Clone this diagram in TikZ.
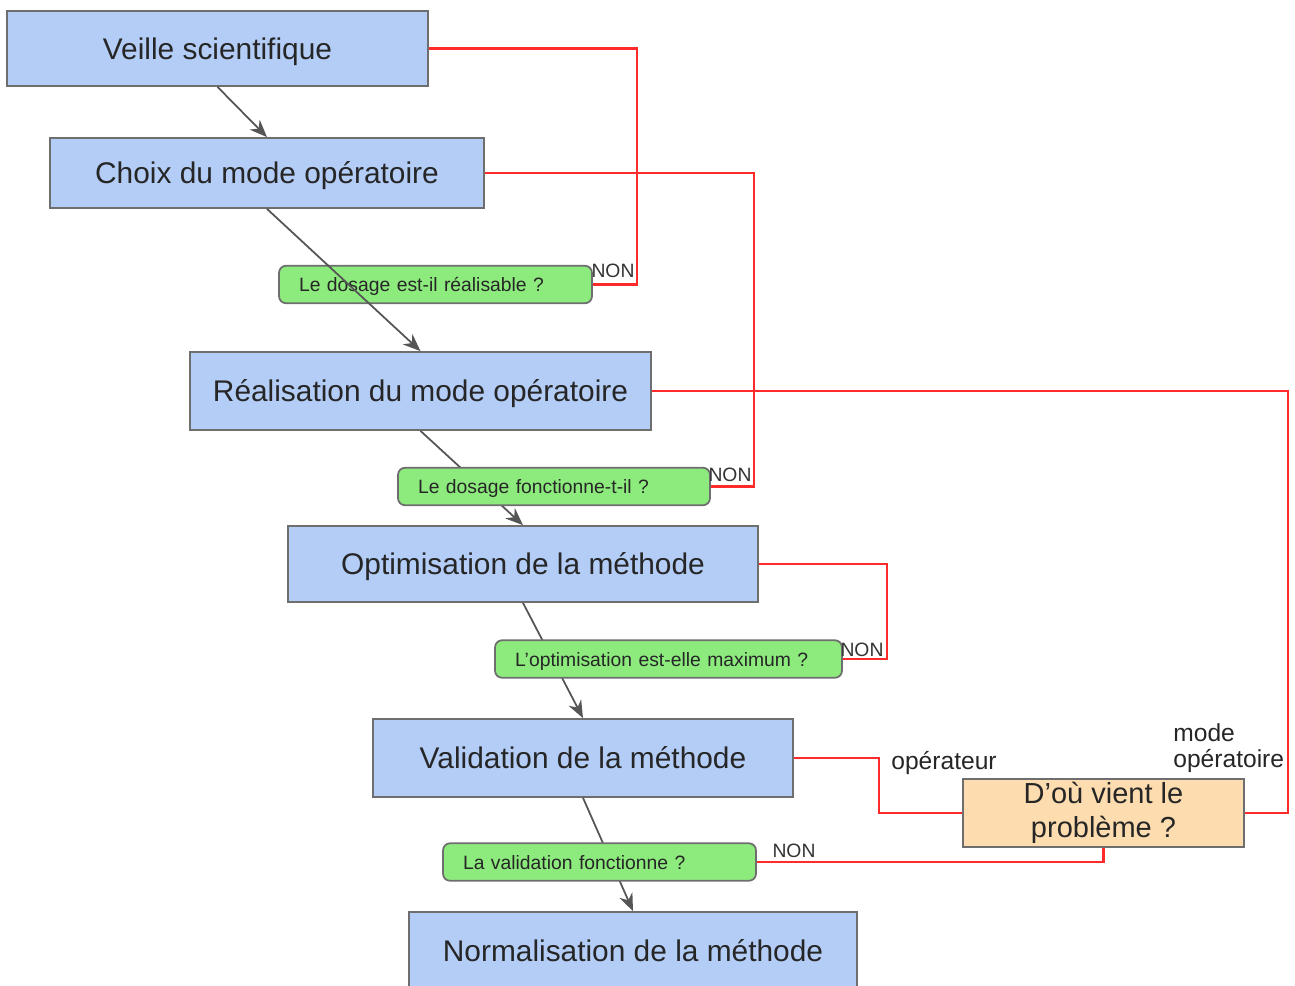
\documentclass[tikz,border=0pt]{standalone}
\usepackage{fontspec}
\setmainfont{Liberation Sans}
\usetikzlibrary{arrows.meta}
\definecolor{boxblue}{HTML}{B3CDF7}
\definecolor{boxgreen}{HTML}{8DEB7E}
\definecolor{boxpeach}{HTML}{FDDCAF}
\definecolor{edgegray}{HTML}{6E6E6E}
\definecolor{arrgray}{HTML}{555555}
\definecolor{linkred}{HTML}{FF2A2A}
\tikzset{
  mainbox/.style={draw=edgegray, line width=1pt, fill=boxblue, inner sep=0pt,
    text height=12.2pt, text depth=0pt,
    font=\fontsize{17}{20}\selectfont, text=black!85},
  qbox/.style={draw=edgegray, line width=1pt, fill=boxgreen, rounded corners=4pt,
    inner xsep=0.4cm, inner ysep=0pt, align=left, minimum height=0.75cm,
    text height=8pt, text depth=0pt,
    font=\fontsize{11}{13}\selectfont, text=black!85},
  probbox/.style={draw=edgegray, line width=1pt, fill=boxpeach, inner sep=0pt,
    align=center, font=\fontsize{16.5}{19}\selectfont, text=black!85},
  arr/.style={draw=arrgray, line width=1pt, -{Stealth[length=10pt,width=8pt]}},
  redlink/.style={draw=linkred, line width=1.2pt},
  nonlbl/.style={font=\fontsize{11}{13}\selectfont, text=black!80, inner sep=0pt},
  sidelbl/.style={font=\fontsize{14}{17}\selectfont, text=black!85, inner sep=0pt},
}
\begin{document}
\begin{tikzpicture}[x=0.02cm, y=-0.02cm]
\useasboundingbox (0,0) rectangle (1295,985);

% main boxes
\node[mainbox, minimum width=8.42cm, minimum height=1.5cm] (veille) at (217.5,48.5) {Veille scientifique};
\node[mainbox, minimum width=8.68cm, minimum height=1.4cm] (choix) at (267,173) {Choix du mode opératoire};
\node[mainbox, minimum width=9.22cm, minimum height=1.56cm] (real) at (420.5,391) {Réalisation du mode opératoire};
\node[mainbox, minimum width=9.4cm, minimum height=1.52cm] (optim) at (523,564) {Optimisation de la méthode};
\node[mainbox, minimum width=8.4cm, minimum height=1.56cm] (valid) at (583,758) {Validation de la méthode};
\node[mainbox, minimum width=8.96cm, minimum height=1.56cm] (norm) at (633,951) {Normalisation de la méthode};

% arrows behind question boxes
\draw[arr] (real.south) -- (optim.north);
\draw[arr] (optim.south) -- (valid.north);
\draw[arr] (valid.south) -- (norm.north);

% question boxes
\node[qbox, text width=5.46cm] (q1) at (435.5,284.5) {Le dosage est-il réalisable ?};
\node[qbox, text width=5.44cm] (q2) at (554,486.5) {Le dosage fonctionne-t-il ?};
\node[qbox, text width=6.14cm] (q3) at (668.5,659) {L’optimisation est-elle maximum ?};
\node[qbox, text width=5.46cm] (q4) at (599.5,862) {La validation fonctionne ?};

% problem box
\node[probbox, minimum width=5.62cm, minimum height=1.36cm] (dou) at (1103.5,813) {D’où vient le\\problème ?};

% arrows drawn on top
\draw[arr] (veille.south) -- (choix.north);
\draw[arr] (choix.south) -- (real.north);

% red links
\draw[redlink] (veille.east) -- ++(208,0) |- (q1.east);
\draw[redlink] (choix.east) -- ++(269,0) |- (q2.east);
\draw[redlink] (real.east) -- ++(636,0) |- (dou.east);
\draw[redlink] (optim.east) -- ++(128,0) |- (q3.east);
\draw[redlink] (valid.east) -- ++(85,0) |- (dou.west);
\draw[redlink] (q4.east) -| (dou.south);

% labels
\node[nonlbl] (non1) at (613,271) {NON};
\node[nonlbl] (non2) at (730,475) {NON};
\node[nonlbl] (non3) at (862,650) {NON};
\node[nonlbl] (non4) at (794,851) {NON};
\node[sidelbl] (oper) at (944,763) {opérateur};
\node[sidelbl, anchor=west, align=left] (modeop) at (1173,748) {mode\\[-2pt]opératoire};
\end{tikzpicture}
\end{document}
